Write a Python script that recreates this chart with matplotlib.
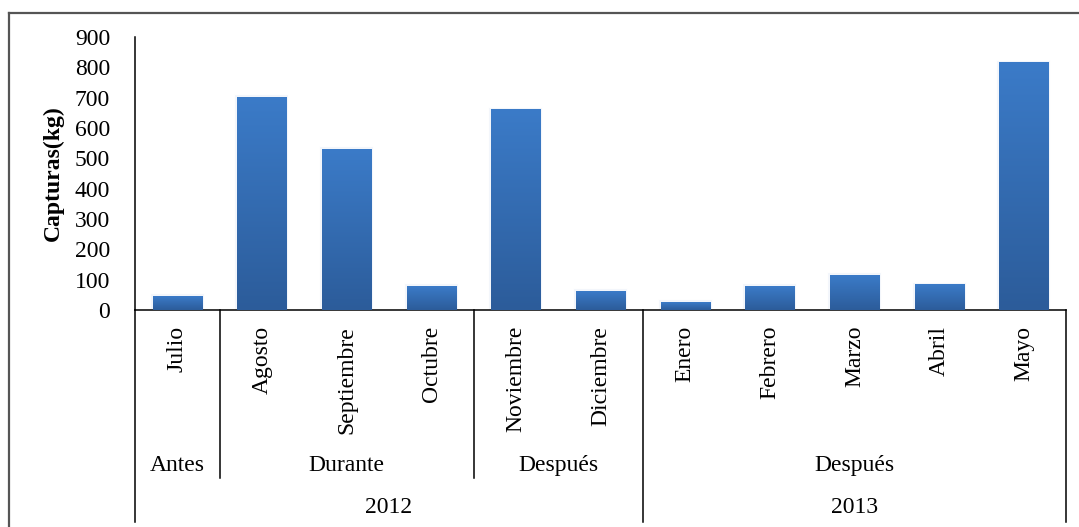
import numpy as np
import matplotlib
matplotlib.use("Agg")
import matplotlib.pyplot as plt
from matplotlib.lines import Line2D
from matplotlib.colors import LinearSegmentedColormap
import matplotlib.transforms as mtransforms

# monthly catch (kg)
months = ["Julio", "Agosto", "Septiembre", "Octubre", "Noviembre", "Diciembre",
          "Enero", "Febrero", "Marzo", "Abril", "Mayo"]
capturas = [45, 702, 530, 79, 660, 62, 26, 79, 114, 83, 815]

# period groups: (label, first index, last index)
periods = [("Antes", 0, 0), ("Durante", 1, 3), ("Después", 4, 5), ("Después", 6, 10)]
years = [("2012", 0, 5), ("2013", 6, 10)]
yticks = [0, 100, 200, 300, 400, 500, 600, 700, 800, 900]

plt.rcParams["font.family"] = ["Liberation Serif", "DejaVu Serif"]
FS = 17

fig = plt.figure(figsize=(10.79, 5.27), dpi=100)
ax = fig.add_axes([135 / 1079, 217 / 527, 931 / 1079, 273 / 527])

x = np.arange(len(months))
bars = ax.bar(x, capturas, width=0.58, color="#3670b8", zorder=2)

# soft halo + vertical gradient on each bar
grad_cmap = LinearSegmentedColormap.from_list("bar", ["#2c5c9a", "#3b7bc8"])
grad = np.linspace(0, 1, 256).reshape(-1, 1)
for b in bars:
    x0, w, h = b.get_x(), b.get_width(), b.get_height()
    ax.bar(x0 + w / 2, h, width=w, color="none", edgecolor="#dde8f5",
           linewidth=3, alpha=0.35, zorder=1)
    ax.imshow(grad, extent=[x0, x0 + w, 0, h], origin="lower", aspect="auto",
              cmap=grad_cmap, zorder=3)

ax.set_xlim(-0.5, len(months) - 0.5)
ax.set_ylim(0, 900)
ax.set_yticks(yticks)
ax.set_yticklabels([str(t) for t in yticks], fontsize=FS)
ax.tick_params(axis="y", length=0, pad=18)
ax.set_xticks([])
for side in ["top", "right"]:
    ax.spines[side].set_visible(False)
ax.spines["left"].set_linewidth(1.1)
ax.spines["bottom"].set_linewidth(1.1)
ax.set_ylabel("Capturas(kg)", fontsize=FS, fontweight="bold", labelpad=8)

# multi-level category axis below the bars
trans = mtransforms.blended_transform_factory(ax.transData, ax.transAxes)
y_month = -0.058
y_period = -0.568
y_period_line = -0.615
y_year = -0.725
y_bottom = -0.777

for i, m in enumerate(months):
    ax.text(i, y_month, m, transform=trans, rotation=90, ha="center", va="top",
            fontsize=FS)

for label, a, b in periods:
    ax.text((a + b) / 2, y_period, label, transform=trans, ha="center",
            va="center", fontsize=FS)
for label, a, b in years:
    ax.text((a + b) / 2, y_year, label, transform=trans, ha="center",
            va="center", fontsize=FS)

# separators: period boundaries short, year boundaries full depth
year_edges = {years[0][1] - 0.5} | {b + 0.5 for _, _, b in years}
period_edges = {b + 0.5 for _, _, b in periods}
for xe in sorted(year_edges | period_edges):
    y_end = y_bottom if xe in year_edges else y_period_line
    ax.plot([xe, xe], [0, y_end], transform=trans, color="black", lw=1.1,
            clip_on=False, zorder=4)

# outer chart border
border = dict(color="#555555", lw=1.6, transform=fig.transFigure)
fig.add_artist(Line2D([9 / 1079, 9 / 1079], [0, 1 - 13 / 527], **border))
fig.add_artist(Line2D([9 / 1079, 1], [1 - 13 / 527, 1 - 13 / 527], **border))

fig.savefig("out.png", dpi=100)
